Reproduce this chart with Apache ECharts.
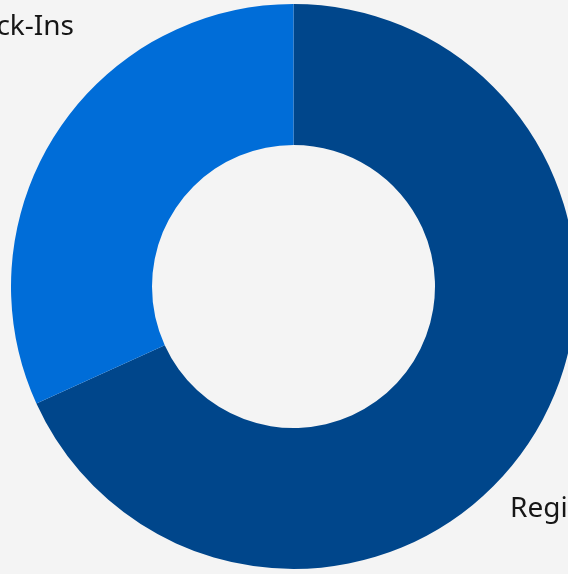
<!DOCTYPE html>
<html>
<head>
<meta charset="utf-8">
<style>
  html, body { margin: 0; padding: 0; background: #f4f4f4; }
  #chart { width: 568px; height: 574px; }
</style>
<script src="https://cdn.jsdelivr.net/npm/echarts@6/dist/echarts.min.js"></script>
</head>
<body>
<div id="chart"></div>
<script>
// Data
var categories = ['Registrations', 'Check-Ins'];
var values = [68.2, 31.8];
var colors = ['#00468b', '#006dd8'];

// Label placement (style only)
var labelSpots = [
  { x: 510, y: 509, align: 'left' },
  { x: 74, y: 27, align: 'right' }
];

var chart = echarts.init(document.getElementById('chart'), null, { renderer: 'canvas' });

var data = categories.map(function (c, i) {
  return { name: c, value: values[i], itemStyle: { color: colors[i] } };
});

chart.setOption({
  backgroundColor: '#f4f4f4',
  animation: false,
  series: [{
    type: 'pie',
    center: [293.5, 286.5],
    radius: [141.5, 282.5],
    startAngle: 90,
    clockwise: true,
    data: data,
    itemStyle: { borderWidth: 0 },
    emphasis: { disabled: true },
    label: {
      show: true,
      position: 'inside',
      overflow: 'none',
      color: '#161616',
      fontSize: 28,
      fontFamily: 'Noto Sans',
      formatter: '{b}'
    },
    labelLine: { show: false },
    labelLayout: function (p) {
      var s = labelSpots[p.dataIndex];
      return { x: s.x, y: s.y, align: s.align, verticalAlign: 'middle' };
    }
  }]
});
</script>
</body>
</html>
